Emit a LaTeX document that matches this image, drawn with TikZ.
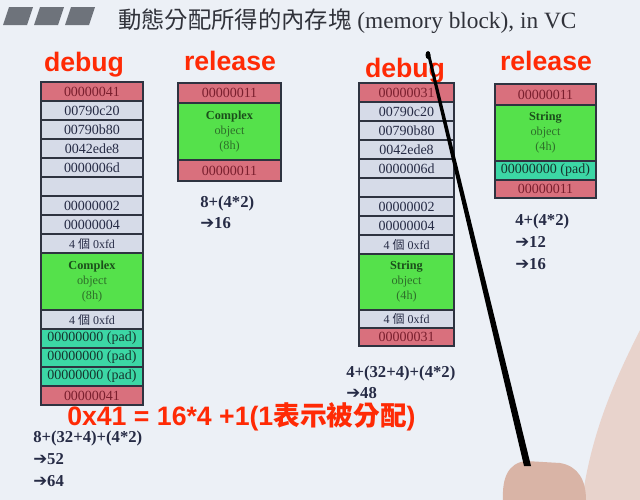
\documentclass[tikz,border=0pt]{standalone}
\usepackage{fontspec}
\setmainfont{Liberation Serif}
\newfontfamily\cjk{Noto Sans CJK TC}
\newfontfamily\arial{Liberation Sans}
\newfontfamily\arrowfont{DejaVu Sans}

\definecolor{bg}{HTML}{ECF0F6}
\definecolor{edge}{HTML}{2E3340}
\definecolor{ink}{HTML}{262B45}
\definecolor{maroon}{HTML}{7A1F2E}
\definecolor{pinkc}{HTML}{D9707D}
\definecolor{grayc}{HTML}{D6DBE8}
\definecolor{greenc}{HTML}{55E14B}
\definecolor{padc}{HTML}{3CD7A5}
\definecolor{padink}{HTML}{17352E}
\definecolor{objgreen}{HTML}{2E6F2A}
\definecolor{objdark}{HTML}{1B4F1B}
\definecolor{redc}{HTML}{FF2A05}
\definecolor{icongray}{HTML}{6E737B}
\definecolor{titleink}{HTML}{30323A}
\definecolor{skin}{HTML}{E8D3CC}
\definecolor{fist}{HTML}{D9B4A6}

\newcommand\boxfont{\fontsize{10.5}{12}\selectfont}
\newcommand\objfont{\fontsize{9.2}{11.25}\selectfont}
\newcommand\labelfont{\arial\bfseries\fontsize{20}{24}\selectfont}
\newcommand\calcfont{\bfseries\fontsize{12.5}{15}\selectfont}
\newcommand\fdcell{{\fontsize{9}{10}\selectfont 4 {\cjk 個} 0xfd}}
\newcommand\objtext[2]{{\color{objdark}\textbf{#1}}\\object\\(#2)}
\newcommand\arr{{\arrowfont\bfseries ➔}}
% one memory cell: style, name, x, y (top left), width, height, text
\newcommand\blk[7]{\node[#1,minimum width={(#5)*0.75pt},minimum height={(#6)*0.75pt}] (#2) at (#3,#4) {#7};}

\begin{document}
\begin{tikzpicture}[x=0.75pt,y=-0.75pt,
  cell/.style={draw=edge,line width=1pt,inner sep=0pt,outer sep=0pt,anchor=north west,font=\boxfont,text=ink},
  pinkcell/.style={cell,fill=pinkc,text=maroon},
  graycell/.style={cell,fill=grayc},
  greencell/.style={cell,fill=greenc,text=objgreen,align=center,font=\objfont},
  padcell/.style={cell,fill=padc,text=padink},
  redlabel/.style={font=\labelfont,text=redc,anchor=base,inner sep=0pt},
  calcline/.style={font=\calcfont,text=ink,anchor=base west,inner sep=0pt},
  icon/.style={fill=icongray}]

% slide background
\fill[bg] (0,0) rectangle (640,500);
\useasboundingbox (0,0) rectangle (640,500);

% title bar
\foreach \o in {0,31,62}
  \fill[icon] (3+\o,25) -- (27+\o,25) -- (33+\o,7) -- (9+\o,7) -- cycle;
\node[anchor=base west,inner sep=0pt,text=titleink,font=\fontsize{17.5}{20}\selectfont] (title) at (118,28)
  {{\cjk 動態分配所得的內存塊} (memory block), in VC};

% column headings
\node[redlabel] (h1) at (84,71) {debug};
\node[redlabel] (h2) at (230,70) {release};
\node[redlabel] (h3) at (405,77) {debug};
\node[redlabel] (h4) at (546,70) {release};

% debug block of Complex
\blk{pinkcell}{a1}{41}{82}{102}{19}{00000041}
\blk{graycell}{a2}{41}{101}{102}{19}{00790c20}
\blk{graycell}{a3}{41}{120}{102}{19}{00790b80}
\blk{graycell}{a4}{41}{139}{102}{19}{0042ede8}
\blk{graycell}{a5}{41}{158}{102}{19}{0000006d}
\blk{graycell}{a6}{41}{177}{102}{19}{}
\blk{graycell}{a7}{41}{196}{102}{19}{00000002}
\blk{graycell}{a8}{41}{215}{102}{19}{00000004}
\blk{graycell}{a9}{41}{234}{102}{19}{\fdcell}
\blk{greencell}{a10}{41}{253}{102}{57}{\objtext{Complex}{8h}}
\blk{graycell}{a11}{41}{310}{102}{19}{\fdcell}
\blk{padcell}{a12}{41}{329}{102}{19}{00000000 (pad)}
\blk{padcell}{a13}{41}{348}{102}{19}{00000000 (pad)}
\blk{padcell}{a14}{41}{367}{102}{19}{00000000 (pad)}
\blk{pinkcell}{a15}{41}{386}{102}{19}{00000041}

% release block of Complex
\blk{pinkcell}{b1}{178}{83}{103}{20}{00000011}
\blk{greencell}{b2}{178}{103}{103}{57}{\objtext{Complex}{8h}}
\blk{pinkcell}{b3}{178}{160}{103}{21}{00000011}

% debug block of String
\blk{pinkcell}{c1}{359}{83}{95}{19}{00000031}
\blk{graycell}{c2}{359}{102}{95}{19}{00790c20}
\blk{graycell}{c3}{359}{121}{95}{19}{00790b80}
\blk{graycell}{c4}{359}{140}{95}{19}{0042ede8}
\blk{graycell}{c5}{359}{159}{95}{19}{0000006d}
\blk{graycell}{c6}{359}{178}{95}{19}{}
\blk{graycell}{c7}{359}{197}{95}{19}{00000002}
\blk{graycell}{c8}{359}{216}{95}{19}{00000004}
\blk{graycell}{c9}{359}{235}{95}{19}{\fdcell}
\blk{greencell}{c10}{359}{254}{95}{56}{\objtext{String}{4h}}
\blk{graycell}{c11}{359}{310}{95}{18}{\fdcell}
\blk{pinkcell}{c12}{359}{328}{95}{18}{00000031}

% release block of String
\blk{pinkcell}{d1}{495}{84}{101}{21}{00000011}
\blk{greencell}{d2}{495}{105}{101}{56}{\objtext{String}{4h}}
\blk{padcell}{d3}{495}{161}{101}{19}{00000000 (pad)}
\blk{pinkcell}{d4}{495}{180}{101}{18}{00000011}

% size sums
\node[calcline] (s1a) at (33,442) {8+(32+4)+(4*2)};
\node[calcline] (s1b) at (33,464) {\arr52};
\node[calcline] (s1c) at (33,486) {\arr64};
\node[calcline] (s2a) at (200,207) {8+(4*2)};
\node[calcline] (s2b) at (200,228) {\arr16};
\node[calcline] (s3a) at (346,377) {4+(32+4)+(4*2)};
\node[calcline] (s3b) at (346,398) {\arr48};
\node[calcline] (s4a) at (515,225) {4+(4*2)};
\node[calcline] (s4b) at (515,247) {\arr12};
\node[calcline] (s4c) at (515,269) {\arr16};

% cookie note
\node[font=\labelfont,text=redc,anchor=base west,inner sep=0pt] (note) at (67,425)
  {0x41 = 16*4 +1(1{\cjk 表示被分配})};

% presenter's hand and pointer
\fill[skin] (640,330) .. controls (615,380) and (592,430) .. (582,500) -- (640,500) -- cycle;
\fill[fist] (503,500) .. controls (502,478) and (508,463) .. (526,461)
  -- (560,463) .. controls (578,466) and (586,480) .. (586,500) -- cycle;
\fill[black] (426.5,52) -- (429.5,52) -- (531,466) -- (524,466) -- cycle;
\fill[black] (428,55) ellipse [x radius=2.5, y radius=4];
\end{tikzpicture}
\end{document}
